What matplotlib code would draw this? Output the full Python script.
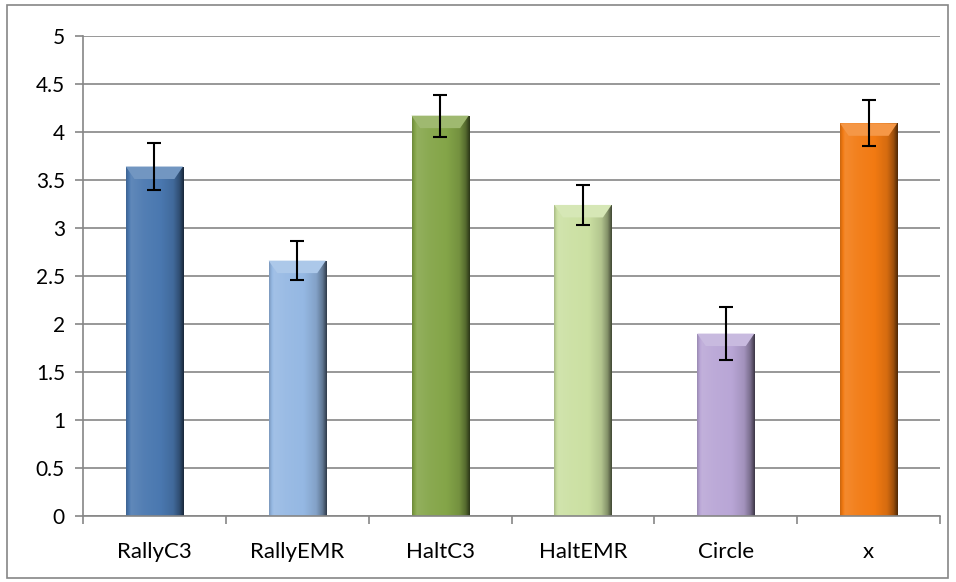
import matplotlib.pyplot as plt
import matplotlib.colors as mcolors
from matplotlib.patches import Polygon, Rectangle
import numpy as np

plt.rcParams['font.family'] = ['Lato', 'DejaVu Sans']

categories = ['RallyC3', 'RallyEMR', 'HaltC3', 'HaltEMR', 'Circle', 'x']
values = [3.64, 2.66, 4.17, 3.24, 1.90, 4.09]
errors = [0.24, 0.20, 0.22, 0.21, 0.28, 0.24]
colors = ['#4a78b0', '#95b8e3', '#84a548', '#cbe0a2', '#b9a6d6', '#f27a12']


def shade(rgb, f):
    rgb = np.array(rgb)
    if f >= 1:
        return rgb + (1 - rgb) * (f - 1)
    return rgb * f


def main():
    fig = plt.figure(figsize=(9.56, 5.82), dpi=100)
    ax = fig.add_axes([0.0868, 0.1134, 0.8965, 0.8248])

    x = np.arange(len(categories))
    width = 0.4
    bars = ax.bar(x, values, width=width, color=colors, zorder=2)

    # bevel look: horizontal gradient clipped to each bar + light top band
    xs = np.linspace(0, 1, 60)
    prof = np.interp(xs, [0, 0.08, 0.3, 0.6, 0.82, 0.93, 1.0],
                     [0.85, 1.12, 1.05, 1.0, 0.88, 0.65, 0.35])
    for b, c, v in zip(bars, colors, values):
        rgb = mcolors.to_rgb(c)
        img = np.array([[shade(rgb, f) for f in prof]])
        x0 = b.get_x()
        im = ax.imshow(img, extent=[x0, x0 + width, 0, v], aspect='auto',
                       zorder=2.1, interpolation='bilinear')
        im.set_clip_path(b)
        bh = 0.13
        inset = 0.06
        top = Polygon([[x0, v], [x0 + width, v], [x0 + width - inset, v - bh],
                       [x0 + inset, v - bh]], closed=True,
                      facecolor=shade(rgb, 1.22), edgecolor='none', zorder=2.2)
        ax.add_patch(top)

    ax.errorbar(x, values, yerr=errors, fmt='none', ecolor='black',
                elinewidth=1.5, capsize=5, capthick=1.5, zorder=3)

    ax.set_xlim(-0.5, len(categories) - 0.5)
    ax.set_ylim(0, 5)
    ax.set_yticks(np.arange(0, 5.01, 0.5))
    ax.set_yticklabels(['0', '0.5', '1', '1.5', '2', '2.5', '3', '3.5', '4', '4.5', '5'])
    ax.set_xticks(np.arange(-0.5, len(categories), 1.0))
    ax.set_xticklabels([])
    ax.set_xticks(x, minor=True)
    ax.set_xticklabels(categories, minor=True)
    ax.tick_params(axis='x', which='minor', length=0, pad=19, labelsize=16)
    ax.tick_params(axis='x', which='major', length=6, color='#868686', width=1.2)
    ax.tick_params(axis='y', length=6, color='#868686', width=1.2, pad=7, labelsize=15)

    ax.yaxis.grid(True, color='#868686', linewidth=1.2)
    ax.set_axisbelow(True)
    for s in ['top', 'right']:
        ax.spines[s].set_visible(False)
    for s in ['left', 'bottom']:
        ax.spines[s].set_color('#868686')
        ax.spines[s].set_linewidth(1.2)

    fig.patches.append(Rectangle((0.007, 0.007), 0.985, 0.984, transform=fig.transFigure,
                                 fill=False, edgecolor='#868686', linewidth=1.2))

    fig.savefig('out.png', dpi=100)


if __name__ == '__main__':
    main()
